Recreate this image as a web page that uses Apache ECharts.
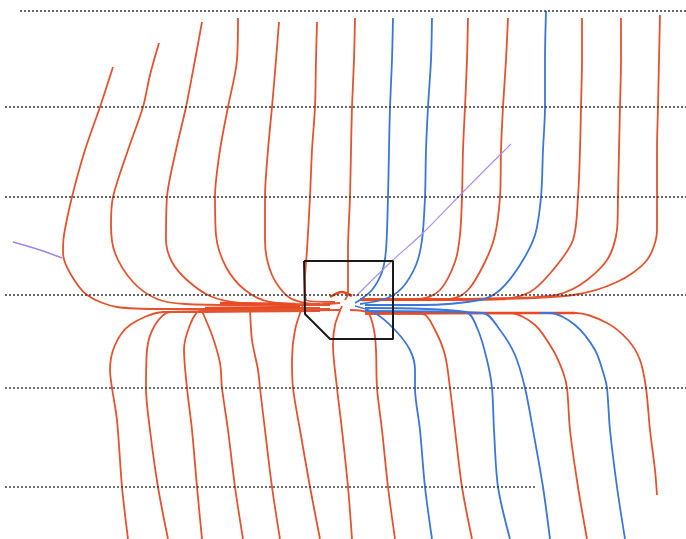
<!DOCTYPE html>
<html>
<head>
<meta charset="utf-8">
<script src="https://cdn.jsdelivr.net/npm/echarts@6/dist/echarts.min.js"></script>
<style>
  html, body { margin: 0; padding: 0; background: #fff; }
  #chart { width: 686px; height: 539px; }
</style>
</head>
<body>
<div id="chart"></div>
<script>
// dotted reference rows (y) and their horizontal extent
var rowY = [11, 107, 197, 295, 388, 487];
var rowFrom = [20, 5, 5, 5, 5, 5];
var rowTo = [686, 686, 686, 686, 686, 535];

// red field lines, upper left (run into the band)
var redUpperLeft = [
  [[113,67],[100,107],[85,150],[72,197],[64,235],[63,253],[70,273],[87,295],[117,307],[163,309],[230,309],[300,307]],
  [[159,43],[150,75],[143,107],[128,150],[113,197],[111,225],[115,253],[133,282],[157,299],[185,304],[240,305],[320,304]],
  [[202,22],[195,60],[186,107],[176,150],[167,197],[166,240],[172,262],[187,280],[210,296],[240,303],[300,305],[340,303]],
  [[238,18],[237,60],[228,107],[220,150],[215,197],[216,235],[226,267],[245,290],[270,302],[330,305]],
  [[279,22],[276,60],[272,107],[268,150],[265,197],[265,240],[272,275],[290,298],[320,305]],
  [[317,22],[316,60],[315,107],[312,150],[310,197],[307,250],[305,280],[306,300],[335,302]],
  [[355,18],[354,60],[352,107],[351,150],[350,197],[348,250],[348,293],[345,300]]
];

// red field lines, lower left (leave the band)
var redLowerLeft = [
  [[340,310],[230,311],[163,312],[130,325],[115,345],[110,370],[112,388],[117,420],[122,487],[128,539]],
  [[320,311],[200,312],[170,312],[155,325],[147,350],[146,388],[150,430],[158,487],[168,539]],
  [[330,309],[200,311],[190,325],[184,350],[187,388],[192,430],[197,487],[202,539]],
  [[300,310],[202,311],[212,335],[220,363],[222,388],[228,430],[235,487],[243,539]],
  [[320,308],[250,308],[252,340],[258,370],[260,388],[265,430],[272,487],[280,539]],
  [[303,305],[295,330],[292,360],[293,388],[300,430],[310,487],[320,539]],
  [[342,306],[335,325],[333,345],[337,388],[342,430],[348,487],[352,539]]
];

// right side field lines, red
var redRight = [
  [[468,18],[467,60],[465,107],[463,150],[462,197],[460,235],[455,262],[440,290],[420,299],[360,300]],
  [[508,18],[506,60],[503,107],[501,150],[500,197],[495,235],[485,262],[468,290],[450,299],[360,299]],
  [[582,18],[582,60],[581,107],[580,150],[578,197],[573,240],[553,270],[530,292],[500,299],[365,300]],
  [[621,18],[621,60],[620,107],[619,150],[618,197],[617,230],[607,260],[580,285],[550,296],[460,299],[365,300]],
  [[660,15],[659,60],[658,107],[657,150],[657,197],[657,230],[647,260],[617,282],[573,295],[500,299],[365,300]],
  [[350,310],[368,313],[374,330],[376,350],[377,388],[382,430],[388,487],[395,539]],
  [[365,313],[423,314],[435,330],[445,355],[450,388],[455,430],[462,487],[472,539]],
  [[365,314],[510,313],[535,325],[553,350],[563,372],[567,388],[570,430],[578,487],[587,539]],
  [[365,313],[576,313],[607,323],[628,340],[640,360],[646,388],[650,430],[655,470],[657,495]]
];

// dense overlapping stretches of the band
var redBand = [
  [[205,308],[300,307]],
  [[220,303],[295,304]],
  [[362,300],[505,299]],
  [[370,313],[575,313]],
  [[330,297],[342,292],[352,296]]
];

// right side field lines, blue
var blueRight = [
  [[393,18],[392,60],[390,107],[389,150],[388,197],[386,250],[382,272],[372,290],[360,300],[355,303]],
  [[432,18],[431,60],[428,107],[426,150],[425,197],[422,240],[416,265],[402,288],[385,299],[360,304]],
  [[546,11],[545,60],[545,107],[543,150],[541,197],[535,235],[520,265],[500,290],[480,300],[420,305],[365,305]],
  [[355,306],[375,313],[395,330],[410,350],[415,370],[415,388],[420,430],[425,487],[432,539]],
  [[365,308],[466,312],[478,330],[487,360],[492,388],[494,430],[498,487],[510,539]],
  [[365,311],[483,313],[500,330],[515,355],[525,388],[533,430],[543,487],[550,539]],
  [[540,313],[550,313],[575,325],[595,350],[604,375],[607,388],[610,430],[617,487],[625,539]]
];

// violet trace, two pieces
var violetLeft = [[13,242],[40,250],[62,258]];
var violetRight = [[356,296],[393,260],[423,233],[465,190],[511,144]];

// outline of the marked region
var outline = [[304,261],[393,261],[393,339],[330,339],[305,314],[304,261]];

var RED = '#e4532f';
var BLUE = '#3b76d9';

function curve(points, color, width) {
  return {
    type: 'line',
    data: points,
    showSymbol: false,
    smooth: 0.3,
    silent: true,
    lineStyle: { color: color, width: width || 1.8 }
  };
}

var series = [];
redUpperLeft.concat(redLowerLeft, redRight).forEach(function (p) {
  series.push(curve(p, RED));
});
redBand.forEach(function (p) {
  series.push(curve(p, '#ea4a22', 2.6));
});
blueRight.forEach(function (p) {
  series.push(curve(p, BLUE));
});
series.push(curve(violetLeft, '#9b86e6', 1.4));
series.push(curve(violetRight, '#a992ec', 1.2));

rowY.forEach(function (y, i) {
  series.push({
    type: 'line',
    data: [[rowFrom[i], y], [rowTo[i], y]],
    showSymbol: false,
    silent: true,
    z: 5,
    lineStyle: { color: '#333', width: 1.4, type: [2, 2] }
  });
});

series.push({
  type: 'line',
  data: outline,
  showSymbol: false,
  silent: true,
  z: 6,
  lineStyle: { color: '#1a1a1a', width: 2 }
});

var chart = echarts.init(document.getElementById('chart'));
chart.setOption({
  animation: false,
  backgroundColor: '#fff',
  grid: { left: 0, right: 0, top: 0, bottom: 0 },
  xAxis: { type: 'value', min: 0, max: 686, show: false },
  yAxis: { type: 'value', min: 0, max: 539, inverse: true, show: false },
  series: series
});
window.addEventListener('resize', function () {
  chart.resize();
});
</script>
</body>
</html>
